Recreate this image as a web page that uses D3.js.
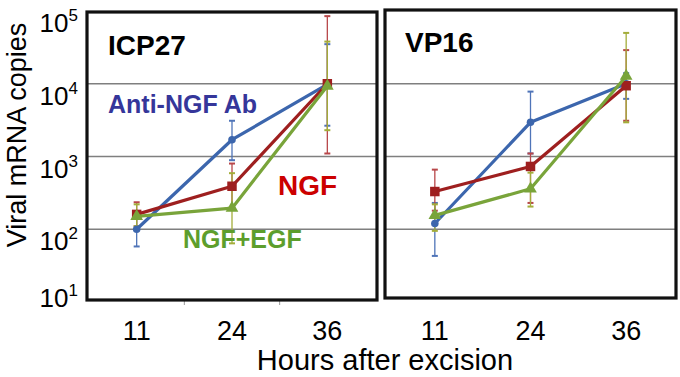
<!DOCTYPE html>
<html>
<head>
<meta charset="utf-8">
<script src="https://cdn.jsdelivr.net/npm/d3@7"></script>
<style>
  body { margin: 0; background: #fff; }
  svg { font-family: "Liberation Sans", Arial, sans-serif; }
</style>
</head>
<body>
<div id="chart"></div>
<script>
// hours after excision
var hours = ["11", "24", "36"];
var yTicks = [10, 100, 1000, 10000, 100000];
var seriesNames = ["Anti-NGF Ab", "NGF", "NGF+EGF"];

// ICP27 panel: mean, lower and upper error bar ends
var icpAnti = [100, 1700, 9800];
var icpAntiLo = [58, 890, 2650];
var icpAntiHi = [160, 3100, 35000];
var icpNgf = [160, 390, 10000];
var icpNgfLo = [110, 200, 1100];
var icpNgfHi = [235, 800, 85000];
var icpEgf = [150, 195, 9300];
var icpEgfLo = [110, 64, 2300];
var icpEgfHi = [220, 590, 38000];

// VP16 panel
var vpAnti = [120, 2950, 10000];
var vpAntiLo = [43, 1100, 6200];
var vpAntiHi = [230, 7800, 14000];
var vpNgf = [330, 730, 9400];
var vpNgfLo = [180, 230, 3100];
var vpNgfHi = [660, 1100, 29000];
var vpEgf = [155, 360, 12700];
var vpEgfLo = [95, 205, 2950];
var vpEgfHi = [220, 600, 50000];

var width = 680, height = 377;
var lineColors = ["#3c66ad", "#9e1f1f", "#79a43a"];
var barColors = ["#4f74b8", "#b8474a", "#a3ad3a"];

var svg = d3.select("#chart").append("svg")
  .attr("width", width)
  .attr("height", height);

var y = d3.scaleLog().domain([10, 100000]).range([302, 11]);

function makeSeries(vals, lo, hi) {
  return hours.map(function (h, i) { return { h: h, v: vals[i], lo: lo[i], hi: hi[i] }; });
}

var panels = [
  { title: "ICP27", left: 87, right: 377, top: 12, bottom: 300, titleX: 108, titleY: 55,
    series: [makeSeries(icpAnti, icpAntiLo, icpAntiHi), makeSeries(icpNgf, icpNgfLo, icpNgfHi), makeSeries(icpEgf, icpEgfLo, icpEgfHi)],
    ticks: true },
  { title: "VP16", left: 385, right: 676, top: 10, bottom: 298, titleX: 405, titleY: 52,
    series: [makeSeries(vpAnti, vpAntiLo, vpAntiHi), makeSeries(vpNgf, vpNgfLo, vpNgfHi), makeSeries(vpEgf, vpEgfLo, vpEgfHi)],
    ticks: false }
];

panels.forEach(function (p) {
  var x = d3.scaleBand().domain(hours).range([p.left + 2, p.right - 2]);
  var cx = function (d) { return x(d.h) + x.bandwidth() / 2; };
  var g = svg.append("g");

  // horizontal gridlines
  g.selectAll(".grid")
    .data([100, 1000, 10000])
    .enter().append("line")
    .attr("x1", p.left).attr("x2", p.right)
    .attr("y1", function (d) { return y(d); })
    .attr("y2", function (d) { return y(d); })
    .attr("stroke", "#7f7f7f")
    .attr("stroke-width", 1.3);

  // boundary ticks under the panel
  if (p.ticks) {
    g.selectAll(".btick")
      .data(hours.slice(1))
      .enter().append("line")
      .attr("x1", function (d) { return x(d); })
      .attr("x2", function (d) { return x(d); })
      .attr("y1", p.bottom + 1).attr("y2", p.bottom + 5)
      .attr("stroke", "#999");
  }

  // x tick labels
  g.selectAll(".xlab")
    .data(hours)
    .enter().append("text")
    .attr("x", function (d) { return x(d) + x.bandwidth() / 2; })
    .attr("y", 340)
    .attr("text-anchor", "middle")
    .attr("font-size", 27)
    .text(function (d) { return d; });

  // error bars
  p.series.forEach(function (s, si) {
    var eb = g.append("g").attr("stroke", barColors[si]).attr("stroke-width", 1.3);
    eb.selectAll(".v").data(s).enter().append("line")
      .attr("x1", cx).attr("x2", cx)
      .attr("y1", function (d) { return y(d.lo); })
      .attr("y2", function (d) { return y(d.hi); });
    eb.selectAll(".c1").data(s).enter().append("line")
      .attr("x1", function (d) { return cx(d) - 3; })
      .attr("x2", function (d) { return cx(d) + 3; })
      .attr("y1", function (d) { return y(d.lo); })
      .attr("y2", function (d) { return y(d.lo); })
      .attr("stroke-width", 2);
    eb.selectAll(".c2").data(s).enter().append("line")
      .attr("x1", function (d) { return cx(d) - 3; })
      .attr("x2", function (d) { return cx(d) + 3; })
      .attr("y1", function (d) { return y(d.hi); })
      .attr("y2", function (d) { return y(d.hi); })
      .attr("stroke-width", 2);
  });

  // lines + markers
  var line = d3.line().x(cx).y(function (d) { return y(d.v); });
  p.series.forEach(function (s, si) {
    g.append("path")
      .datum(s)
      .attr("d", line)
      .attr("fill", "none")
      .attr("stroke", lineColors[si])
      .attr("stroke-width", 3.2)
      .attr("stroke-linejoin", "round");

    var sym = [d3.symbolCircle, d3.symbolSquare, d3.symbolTriangle][si];
    var size = [45, 90, 70][si];
    g.selectAll(".m" + si)
      .data(s)
      .enter().append("path")
      .attr("d", d3.symbol().type(sym).size(size))
      .attr("transform", function (d) { return "translate(" + cx(d) + "," + y(d.v) + ")"; })
      .attr("fill", lineColors[si]);
  });

  // frame
  g.append("rect")
    .attr("x", p.left).attr("y", p.top)
    .attr("width", p.right - p.left)
    .attr("height", p.bottom - p.top)
    .attr("fill", "none")
    .attr("stroke", "#111")
    .attr("stroke-width", 3.2);

  // panel title
  g.append("text")
    .attr("x", p.titleX).attr("y", p.titleY)
    .attr("font-size", 28)
    .attr("font-weight", "bold")
    .text(p.title);
});

// y tick labels: 10 with superscript exponent
var ylab = svg.append("g").selectAll("text")
  .data(yTicks)
  .enter().append("text")
  .attr("x", 78)
  .attr("y", function (d) { return Math.min(y(d) + 21, 307); })
  .attr("text-anchor", "end")
  .attr("font-size", 26);
ylab.append("tspan").text("10");
ylab.append("tspan")
  .attr("font-size", 17)
  .attr("dy", -11)
  .text(function (d) { return Math.round(Math.log10(d)); });

// axis titles
svg.append("text")
  .attr("transform", "translate(26,135) rotate(-90)")
  .attr("text-anchor", "middle")
  .attr("font-size", 27)
  .text("Viral mRNA copies");

svg.append("text")
  .attr("x", 385).attr("y", 370)
  .attr("text-anchor", "middle")
  .attr("font-size", 29)
  .text("Hours after excision");

// series labels inside the ICP27 panel
var labelPos = [
  { x: 108, y: 113, size: 25, color: "#35369a" },
  { x: 278, y: 195, size: 28, color: "#cc0000" },
  { x: 183, y: 248, size: 25, color: "#5d9e2c" }
];
svg.append("g").selectAll("text")
  .data(seriesNames)
  .enter().append("text")
  .attr("x", function (d, i) { return labelPos[i].x; })
  .attr("y", function (d, i) { return labelPos[i].y; })
  .attr("font-size", function (d, i) { return labelPos[i].size; })
  .attr("font-weight", "bold")
  .attr("fill", function (d, i) { return labelPos[i].color; })
  .text(function (d) { return d; });
</script>
</body>
</html>
